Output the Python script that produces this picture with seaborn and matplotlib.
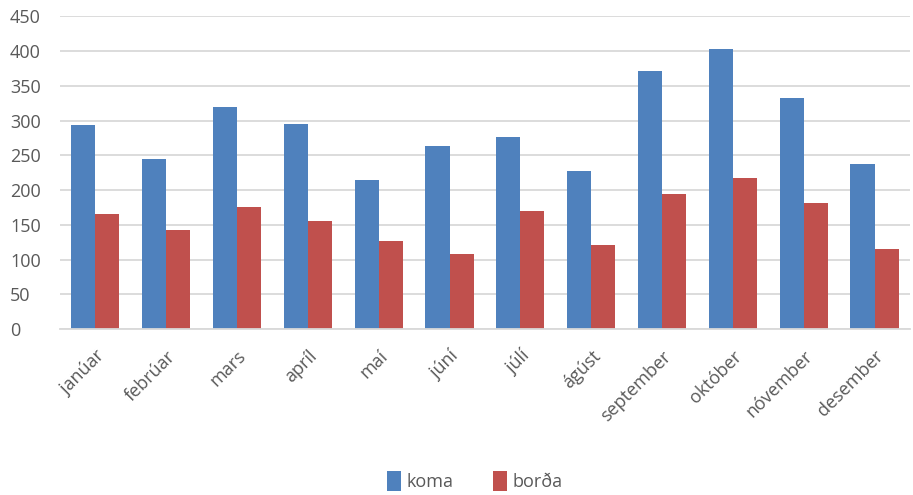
import matplotlib
matplotlib.use("Agg")
import matplotlib.pyplot as plt
import seaborn as sns
import pandas as pd

months = ["janúar", "febrúar", "mars", "apríl", "maí", "júní", "júlí",
          "ágúst", "september", "október", "nóvember", "desember"]
koma = [293, 245, 319, 295, 214, 263, 277, 227, 371, 403, 333, 237]
borda = [166, 142, 175, 156, 127, 108, 170, 121, 195, 218, 182, 115]
series_names = ["koma", "borða"]
yticks = [0, 50, 100, 150, 200, 250, 300, 350, 400, 450]

df = pd.DataFrame({
    "month": months * 2,
    "value": koma + borda,
    "series": [series_names[0]] * len(months) + [series_names[1]] * len(months),
})

sns.set_theme(style="white")
plt.rcParams["font.family"] = ["Open Sans", "DejaVu Sans"]

fig = plt.figure(figsize=(9.13, 4.95), dpi=100)
ax = fig.add_axes([0.0657, 0.335, 0.931, 0.6323])

palette = {"koma": "#4F81BD", "borða": "#C0504D"}
sns.barplot(data=df, x="month", y="value", hue="series", order=months,
            hue_order=series_names, palette=palette, width=0.68,
            saturation=1, ax=ax, legend=True, edgecolor="none")

ax.set_ylim(0, 450)
ax.set_yticks(yticks)
ax.set_xlim(-0.5, len(months) - 0.5)
ax.yaxis.grid(True, color="#D9D9D9", linewidth=1.3)
ax.set_axisbelow(True)
for s in ["top", "right", "left"]:
    ax.spines[s].set_visible(False)
ax.spines["bottom"].set_color("#D9D9D9")
ax.spines["bottom"].set_linewidth(1.3)
ax.tick_params(axis="both", length=0, colors="#595959", labelsize=13)
ax.tick_params(axis="y", pad=36)
ax.tick_params(axis="x", pad=13)
ax.set_xlabel("")
ax.set_ylabel("")
for lab in ax.get_yticklabels():
    lab.set_horizontalalignment("left")
plt.setp(ax.get_xticklabels(), rotation=45, ha="right", rotation_mode="anchor")

handles, labels = ax.get_legend_handles_labels()
ax.get_legend().remove()
leg = fig.legend(handles, labels, loc="center", bbox_to_anchor=(0.52, 0.028),
                 ncol=2, frameon=False, fontsize=13, handlelength=0.75,
                 handleheight=1.3, handletextpad=0.3, columnspacing=2.2)
for t in leg.get_texts():
    t.set_color("#595959")

fig.savefig("out.png", dpi=100)
